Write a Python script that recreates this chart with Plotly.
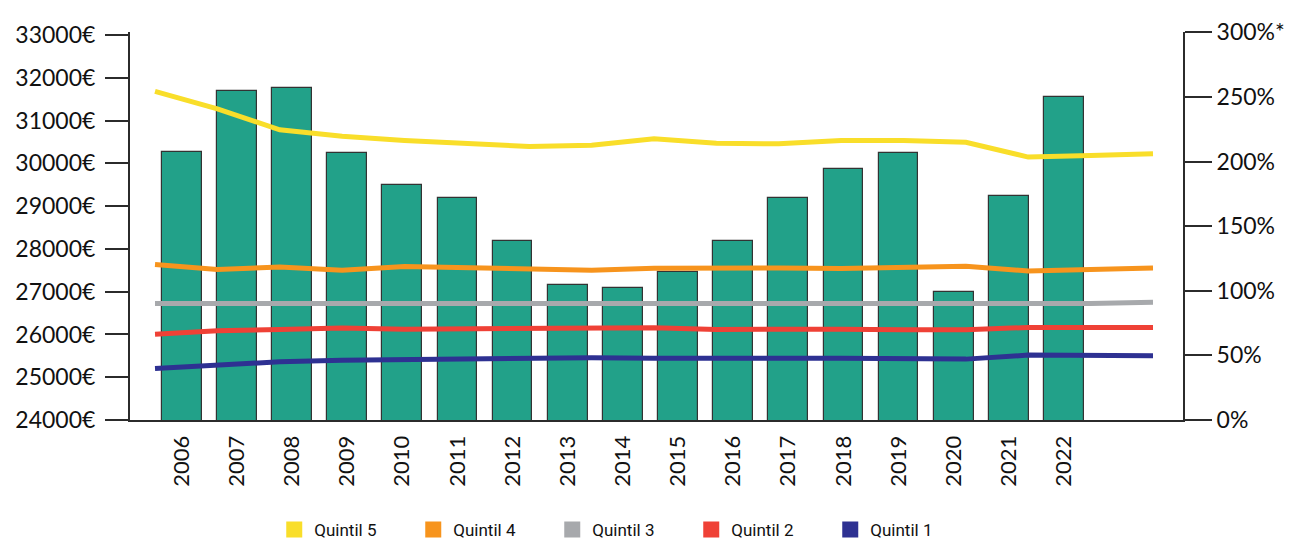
import plotly.graph_objects as go

years = list(range(2006, 2023))
year_labels = [str(y) for y in years]

income = [30270, 31700, 31770, 30230, 29490, 29180, 28190, 27150, 27080,
          27470, 28190, 29180, 29870, 30230, 26990, 29240, 31560]

quintil5 = [254.3, 240.8, 224.5, 219.6, 216.3, 214.2, 211.6, 212.6, 217.6,
            214.2, 213.7, 216.3, 216.3, 214.9, 203.4, 204.7, 206.0]
quintil4 = [120.3, 116.4, 118.4, 115.9, 118.7, 117.6, 117.2, 115.9, 117.4,
            117.9, 117.6, 117.2, 118.4, 118.9, 115.3, 116.8, 117.6]
quintil3 = [90.1, 90.1, 90.1, 90.6, 90.1, 90.9, 90.9, 90.6, 90.1,
            90.1, 90.1, 90.1, 90.6, 90.6, 90.9, 90.1, 91.2]
quintil2 = [66.4, 69.0, 70.1, 71.1, 70.3, 70.5, 70.8, 71.3, 71.3,
            70.1, 70.5, 70.3, 69.8, 69.8, 71.6, 71.6, 71.6]
quintil1 = [39.9, 42.5, 45.0, 46.3, 46.9, 47.7, 48.1, 48.1, 47.7,
            47.3, 47.7, 47.7, 47.3, 47.1, 50.2, 50.2, 49.7]

left_ticks = [24000, 25000, 26000, 27000, 28000, 29000, 30000, 31000, 32000, 33000]
left_labels = [f"{v}€" for v in left_ticks]
right_ticks = [0, 50, 100, 150, 200, 250, 300]
right_labels = ["0%", "50%", "100%", "150%", "200%", "250%", "300%*"]

series = [
    ("Quintil 5", quintil5, "#F9DE2A"),
    ("Quintil 4", quintil4, "#F7941D"),
    ("Quintil 3", quintil3, "#A7A9AC"),
    ("Quintil 2", quintil2, "#EF4136"),
    ("Quintil 1", quintil1, "#2E3192"),
]

FONT = "Lato, 'Open Sans', sans-serif"
AX = "#2b2b2b"

fig = go.Figure()
fig.add_trace(go.Bar(
    x=years, y=income, width=0.72,
    marker=dict(color="#22A189", line=dict(color="#333333", width=1.2)),
    showlegend=False, xaxis="x", yaxis="y",
))

for name, vals, col in series:
    fig.add_trace(go.Scatter(
        x=years, y=vals, mode="lines", line=dict(color=col, width=5),
        showlegend=False, xaxis="x2", yaxis="y2",
    ))
for name, vals, col in series:
    fig.add_trace(go.Scatter(
        x=[None], y=[None], mode="markers", name=name,
        marker=dict(symbol="square", size=18, color=col),
        xaxis="x2", yaxis="y2",
    ))

fig.update_layout(
    width=1285, height=533,
    margin=dict(l=122, r=110, t=24, b=121, autoexpand=False),
    paper_bgcolor="white", plot_bgcolor="white",
    font=dict(family=FONT, color="#111111"),
    bargap=0,
    xaxis=dict(
        range=[2005.062, 2024.159], tickvals=years, ticktext=year_labels,
        tickangle=-90, ticks="", showgrid=False, zeroline=False,
        showline=True, linecolor=AX, linewidth=2,
        tickfont=dict(size=22, family=FONT), ticklabelstandoff=5,
        automargin=False,
    ),
    xaxis2=dict(
        range=[2005.599, 2022.481], overlaying="x", visible=False,
    ),
    yaxis=dict(
        range=[24000, 33070], tickvals=left_ticks, ticktext=left_labels,
        ticks="outside", ticklen=23, tickwidth=2, tickcolor=AX,
        showline=True, linecolor=AX, linewidth=2, showgrid=False, zeroline=False,
        tickfont=dict(size=23, family=FONT), automargin=False,
        ticklabelstandoff=5,
    ),
    yaxis2=dict(
        range=[0, 300.2], tickvals=right_ticks, ticktext=right_labels,
        overlaying="y", side="right",
        ticks="outside", ticklen=27, tickwidth=2, tickcolor=AX,
        showline=True, linecolor=AX, linewidth=2, showgrid=False, zeroline=False,
        tickfont=dict(size=23, family=FONT), automargin=False,
    ),
    legend=dict(
        orientation="h", x=0.467, xanchor="center", y=-0.2835, yanchor="middle",
        font=dict(size=17, family="Roboto, sans-serif"),
        entrywidth=94, entrywidthmode="pixels", itemwidth=30,
    ),
)

fig.write_html("out.html")
